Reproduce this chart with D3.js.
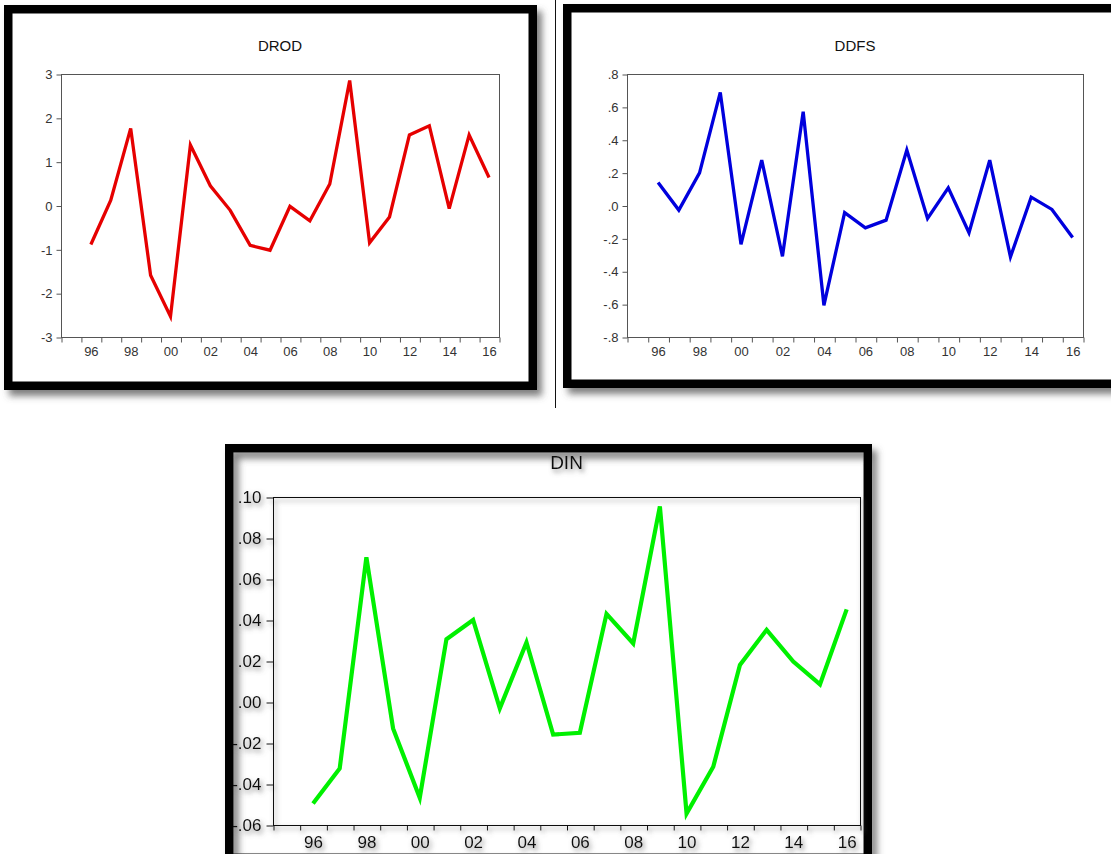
<!DOCTYPE html>
<html>
<head>
<meta charset="utf-8">
<script src="https://cdn.jsdelivr.net/npm/d3@7"></script>
<style>
  body { margin: 0; background: #fff; }
  svg { display: block; font-family: "Liberation Sans", Arial, sans-serif; }
</style>
</head>
<body>
<svg id="chart" width="1111" height="854"></svg>
<script>
// Años de la muestra (cada punto va en el centro de su año)
let years = [1996, 1997, 1998, 1999, 2000, 2001, 2002, 2003, 2004, 2005, 2006,
             2007, 2008, 2009, 2010, 2011, 2012, 2013, 2014, 2015, 2016];
let yearTicks = [1996, 1998, 2000, 2002, 2004, 2006, 2008, 2010, 2012, 2014, 2016];
let yearLabels = ["96", "98", "00", "02", "04", "06", "08", "10", "12", "14", "16"];

// Series
let drod = [-0.89, 0.12, 1.76, -1.59, -2.53, 1.38, 0.45, -0.11, -0.91, -1.02, -0.02,
            -0.35, 0.49, 2.85, -0.85, -0.26, 1.61, 1.82, -0.07, 1.61, 0.64];
let ddfs = [0.14, -0.028, 0.199, 0.688, -0.236, 0.276, -0.309, 0.571, -0.607, -0.043, -0.136,
            -0.089, 0.337, -0.079, 0.108, -0.166, 0.276, -0.313, 0.051, -0.024, -0.195];
let din = [-0.0495, -0.0324, 0.0706, -0.0129, -0.0467, 0.0306, 0.0400, -0.0031, 0.0291, -0.0159, -0.0150,
           0.0430, 0.0286, 0.0954, -0.0544, -0.0316, 0.0181, 0.0352, 0.0197, 0.0086, 0.0452];

// Marcas del eje vertical
let drodTicks = [3, 2, 1, 0, -1, -2, -3];
let drodLabels = ["3", "2", "1", "0", "-1", "-2", "-3"];
let ddfsTicks = [0.8, 0.6, 0.4, 0.2, 0, -0.2, -0.4, -0.6, -0.8];
let ddfsLabels = [".8", ".6", ".4", ".2", ".0", "-.2", "-.4", "-.6", "-.8"];
let dinTicks = [0.10, 0.08, 0.06, 0.04, 0.02, 0, -0.02, -0.04, -0.06];
let dinLabels = [".10", ".08", ".06", ".04", ".02", ".00", "-.02", "-.04", "-.06"];

let svg = d3.select("#chart");
let defs = svg.append("defs");

// Sombra de los marcos
defs.append("filter").attr("id", "frameShadow")
  .attr("x", "-10%").attr("y", "-10%").attr("width", "130%").attr("height", "130%")
  .append("feDropShadow")
  .attr("dx", 5).attr("dy", 6).attr("stdDeviation", 3.5)
  .attr("flood-color", "#555").attr("flood-opacity", 0.75);

// Sombra suave para textos y ejes del panel DIN
defs.append("filter").attr("id", "softShadow")
  .attr("x", "-20%").attr("y", "-20%").attr("width", "150%").attr("height", "150%")
  .append("feDropShadow")
  .attr("dx", 2).attr("dy", 3).attr("stdDeviation", 2.4)
  .attr("flood-color", "#666").attr("flood-opacity", 0.8);

// Línea separadora entre los dos paneles de arriba
svg.append("line")
  .attr("x1", 555.5).attr("x2", 555.5).attr("y1", 0).attr("y2", 408)
  .attr("stroke", "#111").attr("stroke-width", 1);

let panels = [
  { title: "DROD", values: drod, ticks: drodTicks, labels: drodLabels, color: "#e60000",
    frame: [4, 5, 537, 390], plot: [61, 74, 499, 337], lineWidth: 3.3,
    axisColor: "#555", textColor: "#333", fontSize: 13, titleSize: 15, titleY: 51,
    yTick: 5, yPad: 4, xPad: 10, innerShadow: false },
  { title: "DDFS", values: ddfs, ticks: ddfsTicks, labels: ddfsLabels, color: "#0000dd",
    frame: [563, 4, 1130, 388], plot: [627, 74, 1083, 337], lineWidth: 3.3,
    axisColor: "#555", textColor: "#333", fontSize: 13, titleSize: 15, titleY: 51,
    yTick: 5, yPad: 4, xPad: 10, innerShadow: false },
  { title: "DIN", values: din, ticks: dinTicks, labels: dinLabels, color: "#00f000",
    frame: [225, 444, 872, 862], plot: [273, 497, 860, 825], lineWidth: 4.2,
    axisColor: "#111", textColor: "#111", fontSize: 17, titleSize: 19, titleY: 469,
    yTick: 7, yPad: 5, xPad: 11, innerShadow: true }
];

panels.forEach(p => {
  let bw = 8.5;
  let [fx0, fy0, fx1, fy1] = p.frame;
  let [left, top, right, bottom] = p.plot;

  // Marco negro grueso
  let g = svg.append("g");
  if (p.innerShadow) {
    g.append("rect")
      .attr("x", fx0).attr("y", fy0).attr("width", fx1 - fx0).attr("height", fy1 - fy0)
      .attr("fill", "#fff");
  }
  g.append("rect")
    .attr("x", fx0 + bw / 2).attr("y", fy0 + bw / 2)
    .attr("width", fx1 - fx0 - bw).attr("height", fy1 - fy0 - bw)
    .attr("fill", p.innerShadow ? "none" : "#fff")
    .attr("stroke", "#000").attr("stroke-width", bw)
    .attr("filter", "url(#frameShadow)");

  // Escalas: cada año ocupa un intervalo entre dos marcas
  let x = d3.scaleLinear().domain([1995, 2017]).range([left, right]);
  let y = d3.scaleLinear()
    .domain([d3.min(p.ticks), d3.max(p.ticks)])
    .range([bottom, top]);

  let axes = svg.append("g");
  if (p.innerShadow) axes.attr("filter", "url(#softShadow)");

  // Caja del gráfico
  axes.append("rect")
    .attr("x", left + 0.5).attr("y", top + 0.5)
    .attr("width", right - left).attr("height", bottom - top)
    .attr("fill", "none").attr("stroke", p.axisColor).attr("stroke-width", 1);

  // Marcas del eje X en los límites de cada año
  let xTickAxis = axes.append("g")
    .attr("transform", `translate(0.5,${bottom + 0.5})`)
    .call(d3.axisBottom(x)
      .tickValues(d3.range(1995, 2018))
      .tickSize(5).tickSizeOuter(0)
      .tickFormat(""));

  // Etiquetas del eje X centradas en el año
  let xLabelAxis = axes.append("g")
    .attr("transform", `translate(0,${bottom})`)
    .call(d3.axisBottom(x)
      .tickValues(yearTicks.map(v => v + 0.5))
      .tickSize(0).tickPadding(p.xPad)
      .tickFormat((d, i) => yearLabels[i]));

  // Eje Y
  let yAxis = axes.append("g")
    .attr("transform", `translate(${left + 0.5},0.5)`)
    .call(d3.axisLeft(y)
      .tickValues(p.ticks)
      .tickSize(p.yTick).tickPadding(p.yPad)
      .tickFormat((d, i) => p.labels[i]));

  [xTickAxis, xLabelAxis, yAxis].forEach(a => {
    a.select(".domain").remove();
    a.selectAll("line").attr("stroke", p.axisColor);
    a.selectAll("text")
      .attr("fill", p.textColor)
      .style("font-size", p.fontSize + "px")
      .style("font-family", '"Liberation Sans", Arial, sans-serif');
  });

  // Título
  axes.append("text")
    .attr("x", (left + right) / 2)
    .attr("y", p.titleY)
    .attr("text-anchor", "middle")
    .attr("fill", "#111")
    .style("font-size", p.titleSize + "px")
    .text(p.title);

  // Serie
  let line = d3.line()
    .x((d, i) => x(years[i] + 0.5))
    .y(d => y(d));

  svg.append("path")
    .datum(p.values)
    .attr("d", line)
    .attr("fill", "none")
    .attr("stroke", p.color)
    .attr("stroke-width", p.lineWidth)
    .attr("stroke-linejoin", "miter")
    .attr("stroke-miterlimit", 4);
});
</script>
</body>
</html>
